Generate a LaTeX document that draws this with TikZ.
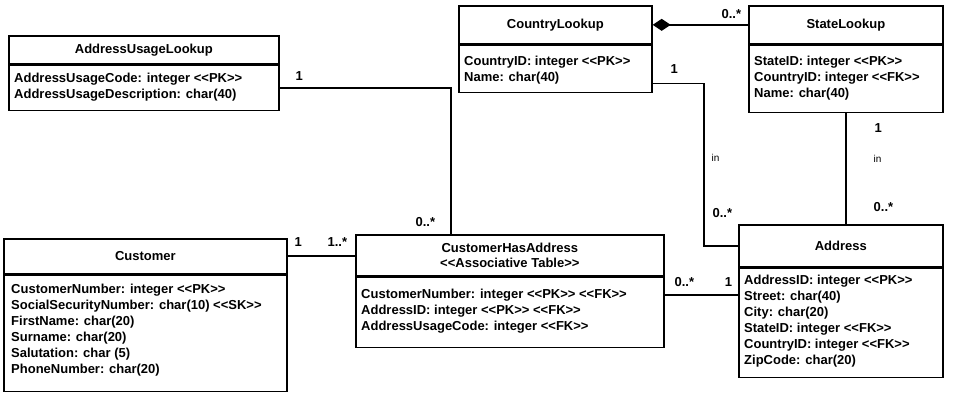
\documentclass[tikz,border=0pt]{standalone}
\usepackage{fontspec}
\setmainfont{Liberation Sans}
\usetikzlibrary{arrows.meta,positioning}

\newcommand{\stereo}[1]{<{}<#1>{}>}

\tikzstyle{hdr} = [draw, line width=1.7pt, anchor=north west, inner sep=0pt,
    align=center, font=\fontsize{13pt}{15.5pt}\selectfont\bfseries]
\tikzstyle{bdy} = [draw, line width=1.7pt, anchor=north west, inner sep=0pt]
\tikzstyle{attr} = [anchor=north west, align=left, inner sep=0pt,
    font=\fontsize{13pt}{16pt}\selectfont\bfseries, xshift=6pt]
\tikzstyle{mult} = [inner sep=0pt, font=\fontsize{13pt}{14pt}\selectfont\bfseries]
\tikzstyle{role} = [inner sep=0pt, font=\fontsize{10pt}{12pt}\selectfont]
\tikzstyle{conn} = [line width=1.7pt]

\begin{document}
\begin{tikzpicture}[x=1pt,y=-1pt]
  \useasboundingbox (0,0) rectangle (960,411);

  % classes
  \node[hdr, minimum width=270pt, minimum height=28pt] (aul) at (8,35) {AddressUsageLookup};
  \node[bdy, minimum width=270pt, minimum height=45pt] (aul-b) at (aul.south west) {};
  \node[attr, yshift=-8pt] at (aul-b.north west)
    {AddressUsageCode: integer \stereo{PK}\\AddressUsageDescription: char(40)};

  \node[hdr, minimum width=193pt, minimum height=38pt] (cty) at (458,5) {CountryLookup};
  \node[bdy, minimum width=193pt, minimum height=47pt] (cty-b) at (cty.south west) {};
  \node[attr, yshift=-11pt] at (cty-b.north west)
    {CountryID: integer \stereo{PK}\\Name: char(40)};

  \node[hdr, minimum width=194pt, minimum height=38pt] (st) at (748,5) {StateLookup};
  \node[bdy, minimum width=194pt, minimum height=67pt] (st-b) at (st.south west) {};
  \node[attr, yshift=-11pt] at (st-b.north west)
    {StateID: integer \stereo{PK}\\CountryID: integer \stereo{FK}\\Name: char(40)};

  \node[hdr, minimum width=283pt, minimum height=35pt] (cus) at (3,238) {Customer};
  \node[bdy, minimum width=283pt, minimum height=116pt] (cus-b) at (cus.south west) {};
  \node[attr, yshift=-9pt, xshift=2pt] at (cus-b.north west)
    {CustomerNumber: integer \stereo{PK}\\SocialSecurityNumber: char(10) \stereo{SK}\\
     FirstName: char(20)\\Surname: char(20)\\Salutation: char (5)\\PhoneNumber: char(20)};

  \node[hdr, minimum width=308pt, minimum height=41pt] (cha) at (355,234)
    {CustomerHasAddress\\\stereo{Associative Table}};
  \node[bdy, minimum width=308pt, minimum height=70pt] (cha-b) at (cha.south west) {};
  \node[attr, yshift=-12pt] at (cha-b.north west)
    {CustomerNumber: integer \stereo{PK} \stereo{FK}\\AddressID: integer \stereo{PK} \stereo{FK}\\
     AddressUsageCode: integer \stereo{FK}};

  \node[hdr, minimum width=204pt, minimum height=42pt] (adr) at (738,224) {Address};
  \node[bdy, minimum width=204pt, minimum height=109pt] (adr-b) at (adr.south west) {};
  \node[attr, yshift=-7pt] at (adr-b.north west)
    {AddressID: integer \stereo{PK}\\Street: char(40)\\City: char(20)\\StateID: integer \stereo{FK}\\
     CountryID: integer \stereo{FK}\\ZipCode: char(20)};

  % associations
  \draw[conn] (aul-b.east) -| ([xshift=96pt]cha.north west)
    node[mult, pos=0, anchor=south west, xshift=15pt, yshift=7pt] {1}
    node[mult, pos=1, anchor=south east, xshift=-15pt, yshift=7pt] {0..*};

  \draw[conn, {Diamond[length=18pt,width=12pt]}-] (cty.east) -- (st.west)
    node[mult, pos=1, anchor=south east, xshift=-6pt, yshift=5pt] {0..*};

  \coordinate (cbend) at ([xshift=51pt,yshift=10pt]cty-b.south east);
  \draw[conn] ([yshift=10pt]cty-b.south east) -- (cbend)
    node[mult, pos=0, anchor=south west, xshift=17pt, yshift=9pt] {1}
    |- (adr.west)
    node[role, pos=0.23, anchor=west, xshift=7pt] {in}
    node[mult, pos=0.4, anchor=west, xshift=8pt] {0..*};

  \draw[conn] (st-b.south) -- (st-b.south |- adr.north)
    node[mult, pos=0.13, anchor=west, xshift=28pt] {1}
    node[role, pos=0.41, anchor=west, xshift=27pt] {in}
    node[mult, pos=0.85, anchor=west, xshift=27pt] {0..*};

  \draw[conn] (cus.east) -- (cus.east -| cha.west)
    node[mult, pos=0, anchor=south west, xshift=6pt, yshift=9pt] {1}
    node[mult, pos=1, anchor=south east, xshift=-7pt, yshift=9pt] {1..*};

  \draw[conn] ([yshift=-18pt]cha-b.north east) -- ([yshift=-18pt]cha-b.north east -| adr-b.west)
    node[mult, pos=0, anchor=south west, xshift=9pt, yshift=7pt] {0..*}
    node[mult, pos=1, anchor=south east, xshift=-5pt, yshift=7pt] {1};
\end{tikzpicture}
\end{document}
